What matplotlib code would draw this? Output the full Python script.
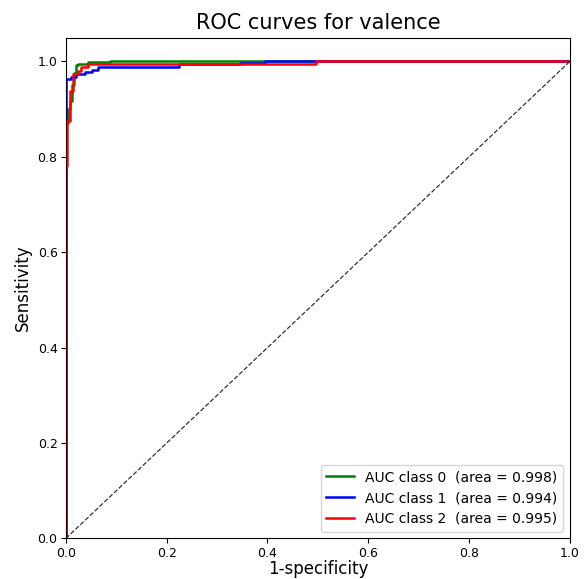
import numpy as np
import matplotlib
matplotlib.use("Agg")
import matplotlib.pyplot as plt

# ROC points (fpr, tpr)
fpr_0 = [0, 0, 0.005, 0.005, 0.008, 0.008, 0.012, 0.012, 0.016, 0.016, 0.021, 0.021,
         0.024, 0.024, 0.044, 0.044, 0.087, 0.087, 1.0]
tpr_0 = [0, 0.87, 0.87, 0.90, 0.90, 0.918, 0.918, 0.95, 0.95, 0.975, 0.975, 0.992,
         0.992, 0.995, 0.995, 0.998, 0.998, 1.0, 1.0]

fpr_1 = [0, 0, 0.001, 0.001, 0.011, 0.011, 0.021, 0.021, 0.038, 0.038, 0.051, 0.051,
         0.064, 0.064, 0.224, 0.224, 0.345, 0.345, 0.395, 0.395, 1.0]
tpr_1 = [0, 0.673, 0.673, 0.963, 0.963, 0.968, 0.968, 0.974, 0.974, 0.978, 0.978, 0.982,
         0.982, 0.988, 0.988, 0.994, 0.994, 0.997, 0.997, 1.0, 1.0]

fpr_2 = [0, 0, 0.003, 0.003, 0.008, 0.008, 0.015, 0.015, 0.024, 0.024, 0.031, 0.031,
         0.044, 0.044, 0.497, 0.497, 1.0]
tpr_2 = [0, 0.78, 0.78, 0.876, 0.876, 0.939, 0.939, 0.974, 0.974, 0.981, 0.981, 0.988,
         0.988, 0.994, 0.994, 1.0, 1.0]

auc_vals = [0.998, 0.994, 0.995]
colors = ["green", "blue", "red"]

fig = plt.figure(figsize=(5.88, 5.79), dpi=100)
ax = fig.add_axes([0.112, 0.0700, 0.857, 0.8650])

curves = [(fpr_0, tpr_0), (fpr_1, tpr_1), (fpr_2, tpr_2)]
for i, (f, t) in enumerate(curves):
    ax.plot(f, t, color=colors[i], lw=1.8,
            label="AUC class %d  (area = %.3f)" % (i, auc_vals[i]))

# chance line
ax.plot([0, 1], [0, 1], color="#333333", ls="--", lw=0.9)

ax.set_xlim(0, 1.0)
ax.set_ylim(0, 1.05)
ax.set_xlabel("1-specificity", fontsize=12, labelpad=0)
ax.set_ylabel("Sensitivity", fontsize=12)
ax.set_title("ROC curves for valence", fontsize=15)
ax.tick_params(labelsize=9, pad=2.5)
ax.legend(loc="lower right", fontsize=10)

fig.savefig("out.png", dpi=100)
